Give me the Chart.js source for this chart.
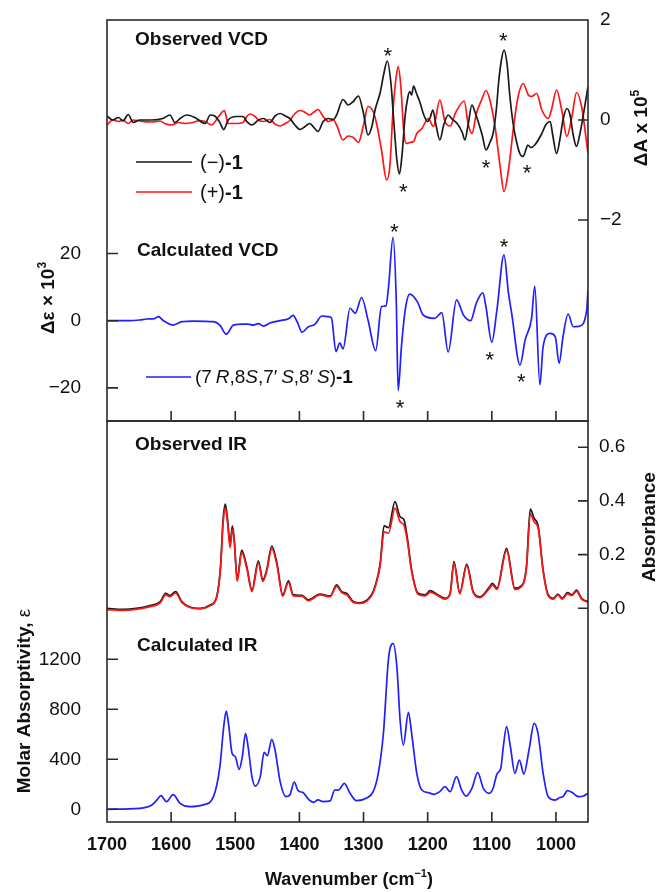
<!DOCTYPE html>
<html>
<head>
<meta charset="utf-8">
<script src="https://cdn.jsdelivr.net/npm/chart.js@4.4.1/dist/chart.umd.min.js"></script>
<style>
  body { margin: 0; background: #fff; }
  #wrap { position: relative; width: 658px; height: 892px; }
  canvas { position: absolute; left: 0; top: 0; }
</style>
</head>
<body>
<div id="wrap">
  <canvas id="chartTop" width="658" height="892"></canvas>
  <canvas id="chartBottom" width="658" height="892"></canvas>
</div>
<script>
const FONT = '"Liberation Sans", Arial, Helvetica, sans-serif';
const AXIS = '#2a2a2a';
const BLACK = '#1a1a1a', RED = '#ff1515', BLUE = '#1f1fff';

// tick values
const xTicks = [1700, 1600, 1500, 1400, 1300, 1200, 1100, 1000];
const dEpsTicks = [-20, 0, 20];
const dATicks = [-2, 0, 2];
const epsTicks = [0, 400, 800, 1200];
const absTicks = [0, 0.2, 0.4, 0.6];

// observed VCD, (-)-1 : [wavenumber, dA x 1e5]
const vcdMinus = [[1700,0.08],[1691,0.0],[1682,0.05],[1675,-0.02],[1667,0.11],[1659,-0.05],[1649,0.0],[1630,0.0],
  [1613,0.03],[1602,0.1],[1594,-0.05],[1586,0.03],[1576,0.1],[1563,0.05],[1547,-0.07],[1539,0.1],[1532,0.08],
  [1524,-0.05],[1518,-0.19],[1511,0.0],[1498,0.07],[1488,0.07],[1482,-0.03],[1474,-0.1],[1464,0.0],[1456,0.03],
  [1446,-0.05],[1438,0.08],[1430,0.13],[1422,0.08],[1415,0.03],[1407,-0.1],[1399,-0.19],[1391,-0.13],[1384,-0.07],
  [1376,-0.17],[1371,-0.23],[1363,-0.03],[1355,0.03],[1347,0.01],[1342,0.1],[1332,0.41],[1324,0.3],[1316,0.37],
  [1308,0.48],[1300,0.13],[1293,-0.3],[1287,-0.13],[1282,0.2],[1274,0.55],[1268,0.95],[1263,1.18],[1257,0.7],
  [1253,0.0],[1248,-0.8],[1244,-1.08],[1240,-0.7],[1235,0.1],[1231,0.45],[1228,0.57],[1225,0.5],[1222,0.68],
  [1218,0.55],[1212,0.35],[1206,0.1],[1200,-0.03],[1196,0.05],[1192,0.2],[1187,-0.1],[1181,-0.4],[1175,-0.1],
  [1168,0.1],[1162,0.02],[1154,-0.07],[1146,-0.25],[1142,-0.4],[1137,-0.1],[1131,0.3],[1126,0.15],[1122,0.0],
  [1115,-0.3],[1109,-0.6],[1103,-0.45],[1098,-0.27],[1093,0.2],[1089,0.8],[1085,1.2],[1081,1.4],[1076,1.1],
  [1072,0.5],[1067,-0.05],[1062,-0.4],[1056,-0.68],[1051,-0.73],[1047,-0.6],[1044,-0.5],[1039,-0.55],[1033,-0.5],
  [1022,-0.27],[1016,-0.1],[1009,-0.03],[1005,-0.3],[999,-0.67],[994,-0.4],[989,0.0],[983,0.23],[978,0.1],
  [973,-0.3],[968,-0.53],[963,-0.3],[956,0.2],[950,0.67]];

// observed VCD, (+)-1
const vcdPlus = [[1700,-0.1],[1691,0.0],[1682,-0.03],[1675,0.0],[1667,-0.07],[1659,0.0],[1649,-0.02],[1630,-0.04],
  [1617,-0.02],[1610,-0.07],[1599,-0.1],[1589,-0.05],[1578,-0.07],[1566,-0.05],[1555,-0.01],[1547,-0.03],
  [1537,-0.1],[1526,0.07],[1517,0.19],[1511,-0.07],[1498,-0.07],[1488,-0.05],[1482,0.07],[1477,0.12],[1469,0.07],
  [1464,0.0],[1456,-0.03],[1446,0.01],[1438,-0.08],[1430,-0.12],[1422,-0.07],[1415,-0.01],[1407,0.13],[1399,0.19],
  [1391,0.15],[1384,0.1],[1376,0.17],[1371,0.21],[1363,0.07],[1355,-0.03],[1347,0.0],[1342,-0.1],[1332,-0.4],
  [1324,-0.32],[1316,-0.35],[1308,-0.45],[1300,-0.1],[1293,0.27],[1285,0.17],[1280,-0.05],[1272,-0.6],[1264,-1.2],
  [1259,-0.93],[1254,0.2],[1249,0.87],[1246,1.07],[1242,0.7],[1237,-0.27],[1233,-0.47],[1228,-0.45],[1222,-0.43],
  [1217,-0.27],[1209,-0.17],[1199,0.03],[1191,-0.13],[1181,0.4],[1173,-0.03],[1165,-0.12],[1157,0.13],[1143,0.38],
  [1137,-0.07],[1131,-0.27],[1124,0.13],[1116,0.4],[1109,0.59],[1103,0.4],[1095,-0.13],[1087,-0.93],[1081,-1.43],
  [1074,-1.0],[1066,-0.13],[1059,0.47],[1051,0.73],[1043,0.5],[1038,0.47],[1030,0.53],[1022,0.2],[1012,0.03],
  [1007,0.2],[999,0.6],[991,0.2],[983,-0.33],[975,0.07],[968,0.55],[960,0.27],[950,-0.67]];

// calculated VCD : [wavenumber, d-epsilon x 1e3]
const vcdCalc = [[1700,0],[1665,0],[1649,0.2],[1638,0.5],[1626,0.6],[1620,1.2],[1612,0],[1597,-1.3],[1583,-0.3],
  [1565,-0.1],[1534,-0.3],[1524,-1.3],[1514,-4],[1503,-1.3],[1488,-1.0],[1480,-1.0],[1472,-1.3],[1464,-0.9],
  [1456,-1.6],[1446,-0.7],[1430,0],[1417,0.6],[1410,1.6],[1403,-0.5],[1396,-3.4],[1386,-1.8],[1376,-1.1],
  [1365,1.4],[1355,1.2],[1350,0.8],[1343,-9.2],[1337,-6.6],[1332,-8.4],[1321,3.7],[1313,2.2],[1303,6.9],
  [1293,0.2],[1281,-8.9],[1272,4.2],[1265,4.4],[1261,10.1],[1254,24.8],[1249,6.2],[1246,-20.8],[1241,-8],
  [1235,3.2],[1228,7.9],[1216,5.6],[1207,1.7],[1189,0.7],[1178,2.4],[1168,-9.3],[1155,6.2],[1144,1.6],[1133,0],
  [1124,5.3],[1114,8.3],[1109,4],[1100,-6.4],[1092,3.2],[1081,19.6],[1074,8.2],[1069,2.2],[1056,-13.2],
  [1048,-5.7],[1038,0.7],[1033,10.3],[1025,-19.1],[1020,-7.7],[1009,-3.8],[1001,-4.8],[995,-12.7],[989,-4.8],
  [981,2.0],[973,-1.8],[963,-1.6],[952,3.2],[950,9.1]];

// observed IR : wavenumbers, absorbance of (-)-1 and (+)-1
const irWn = [1700,1675,1633,1617,1608.5,1602,1593,1583.5,1571,1555,
  1539,1529,1523,1519,1515.5,1512,1508,1504.6,1501.5,1497,
  1490,1482,1474,1464,1457,1451,1443,1435,1426,1417,
  1409.5,1396,1386,1368,1352,1342,1334,1326,1316,1305.5,
  1295,1285,1274,1268,1261,1251,1243,1237,1232,1225,
  1215,1204,1196,1186,1173,1165,1159,1150,1139,1129,
  1118,1105,1099,1092,1077,1064,1056,1046,1040,1034,
  1027.5,1020,1012,1004,997,990,982,975,968,960,
  952,950];
const irMinus = [0.0,-0.004,0.01,0.025,0.056,0.047,0.062,0.025,0.005,0.0,
  0.012,0.043,0.155,0.33,0.388,0.33,0.236,0.307,0.255,0.108,
  0.217,0.155,0.068,0.177,0.106,0.143,0.232,0.168,0.05,0.102,
  0.05,0.048,0.031,0.053,0.046,0.087,0.062,0.055,0.025,0.02,
  0.03,0.062,0.168,0.307,0.3,0.397,0.341,0.33,0.267,0.143,
  0.056,0.05,0.066,0.053,0.037,0.056,0.174,0.058,0.165,0.062,
  0.043,0.075,0.093,0.075,0.223,0.075,0.08,0.155,0.369,0.335,
  0.304,0.143,0.05,0.037,0.053,0.037,0.058,0.05,0.068,0.037,
  0.027,0.027];
const irPlus = [-0.005,-0.008,0.006,0.02,0.05,0.043,0.057,0.022,0.003,-0.002,
  0.01,0.04,0.148,0.315,0.372,0.318,0.225,0.295,0.245,0.1,
  0.208,0.148,0.062,0.168,0.1,0.137,0.222,0.16,0.045,0.096,
  0.046,0.045,0.028,0.05,0.043,0.082,0.058,0.05,0.022,0.018,
  0.027,0.058,0.16,0.285,0.28,0.373,0.322,0.31,0.255,0.137,
  0.052,0.046,0.06,0.05,0.034,0.052,0.168,0.054,0.158,0.058,
  0.04,0.07,0.086,0.07,0.215,0.07,0.076,0.148,0.352,0.322,
  0.296,0.138,0.046,0.034,0.05,0.034,0.054,0.047,0.064,0.034,
  0.024,0.022];

// calculated IR : [wavenumber, molar absorptivity]
const irCalc = [[1700,0],[1649,8],[1630,35],[1622,75],[1616,109],[1607,61],[1597,117],[1586,48],[1571,21],
  [1550,35],[1534,101],[1524,341],[1518,661],[1514,786],[1510,661],[1505,448],[1500,421],[1494,320],[1489,421],
  [1484,608],[1480,501],[1474,261],[1469,186],[1461,261],[1455,456],[1450,429],[1443,560],[1438,474],[1430,221],
  [1421,101],[1415,114],[1408,218],[1402,149],[1394,133],[1385,75],[1378,56],[1371,75],[1363,61],[1352,67],
  [1345,154],[1339,154],[1330,208],[1321,128],[1311,69],[1295,90],[1285,141],[1277,288],[1269,608],[1261,1208],
  [1254,1328],[1248,1141],[1243,714],[1238,514],[1230,776],[1225,608],[1217,288],[1209,154],[1199,133],
  [1190,120],[1181,141],[1173,181],[1165,141],[1155,261],[1147,154],[1140,106],[1131,168],[1122,293],[1113,165],
  [1104,128],[1098,168],[1092,282],[1086,328],[1082,501],[1077,661],[1071,501],[1064,288],[1057,394],[1050,282],
  [1042,474],[1034,688],[1028,608],[1020,288],[1012,101],[1001,74],[994,94],[989,101],[982,149],[975,136],
  [965,101],[957,106],[950,128]];

// asterisk marks : [wavenumber, axis value]
const starsObs = [[1262, 1.4], [1238, -1.32], [1109, -0.84], [1082, 1.7], [1045, -0.94]];
const starsCalc = [[1252, 27.9], [1243, -24.2], [1103, -10.2], [1081, 23.7], [1054, -16.5]];

function pairs(list) { return list.map(p => ({ x: p[0], y: p[1] })); }
function zip(xs, ys) { return xs.map((x, i) => ({ x: x, y: ys[i] })); }

function line(label, data, color, axis) {
  return {
    label: label, data: data, yAxisID: axis,
    borderColor: color, borderWidth: 1.7, pointRadius: 0, fill: false,
    cubicInterpolationMode: 'monotone'
  };
}

function fixTicks(values) {
  return function (scale) { scale.ticks = values.map(v => ({ value: v })); };
}
function signed(v) { return v < 0 ? '\u2212' + Math.abs(v) : String(v); }

function yAxis(pos, min, max, ticks, fmt, width, pad) {
  return {
    position: pos, min: min, max: max, bounds: 'data',
    afterBuildTicks: fixTicks(ticks),
    // fixed width; drop the label padding so the plot box keeps its place
    afterFit: s => { s.width = width; s.paddingTop = 0; s.paddingBottom = 0; },
    grid: { display: false, drawTicks: false },
    border: { display: false },
    ticks: { font: { family: FONT, size: 19 }, color: '#111', padding: pad, callback: fmt }
  };
}

function xAxis(labels, height) {
  return {
    type: 'linear', min: 950, max: 1700, reverse: true, bounds: 'data',
    afterBuildTicks: fixTicks(xTicks),
    afterFit: s => { s.height = height; },
    grid: { display: false, drawTicks: false },
    border: { display: false },
    ticks: {
      display: labels, font: { family: FONT, size: 18, weight: 'bold' }, color: '#111',
      padding: 12, maxRotation: 0, autoSkip: false, callback: v => String(v)
    }
  };
}

function richText(ctx, parts, x, y, align, rotate, base) {
  ctx.save();
  ctx.translate(x, y);
  if (rotate) ctx.rotate(rotate);
  ctx.fillStyle = '#111';
  ctx.textAlign = 'left';
  ctx.textBaseline = 'alphabetic';
  let w = 0;
  parts.forEach(p => { ctx.font = p[1]; w += ctx.measureText(p[0]).width; });
  let cx = align === 'center' ? -w / 2 : 0;
  parts.forEach(p => {
    ctx.font = p[1];
    ctx.fillText(p[0], cx, (base || 0) + (p[2] || 0));
    cx += ctx.measureText(p[0]).width;
  });
  ctx.restore();
}

function drawFrame(chart, yLTicks, yRTicks) {
  const ctx = chart.ctx, a = chart.chartArea, s = chart.scales;
  ctx.save();
  ctx.strokeStyle = AXIS;
  ctx.lineWidth = 1.6;
  ctx.beginPath();
  xTicks.forEach(v => {
    const px = s.x.getPixelForValue(v);
    if (px < a.left + 2 || px > a.right - 2) return;
    ctx.moveTo(px, a.bottom); ctx.lineTo(px, a.bottom - 10);
  });
  yLTicks.forEach(v => {
    const py = s.yL.getPixelForValue(v);
    if (py < a.top + 2 || py > a.bottom - 2) return;
    ctx.moveTo(a.left, py); ctx.lineTo(a.left + 11, py);
  });
  yRTicks.forEach(v => {
    const py = s.yR.getPixelForValue(v);
    if (py < a.top + 2 || py > a.bottom - 2) return;
    ctx.moveTo(a.right, py); ctx.lineTo(a.right - 10, py);
  });
  ctx.stroke();
  ctx.strokeRect(a.left, a.top, a.right - a.left, a.bottom - a.top);
  ctx.restore();
}

function legendLine(ctx, color, x1, x2, y) {
  ctx.save();
  ctx.strokeStyle = color;
  ctx.lineWidth = 1.7;
  ctx.beginPath(); ctx.moveTo(x1, y); ctx.lineTo(x2, y); ctx.stroke();
  ctx.restore();
}

function stars(chart, list, axis) {
  const ctx = chart.ctx, s = chart.scales;
  ctx.save();
  ctx.fillStyle = '#111';
  ctx.font = '22px ' + FONT;
  ctx.textAlign = 'center';
  ctx.textBaseline = 'alphabetic';
  list.forEach(p => {
    ctx.fillText('*', s.x.getPixelForValue(p[0]), s[axis].getPixelForValue(p[1]) + 12.5);
  });
  ctx.restore();
}

const B19 = 'bold 19px ' + FONT, R19 = '19px ' + FONT, I19 = 'italic 19px ' + FONT;
const B20 = 'bold 20px ' + FONT, R20 = '20px ' + FONT, SUP = 'bold 12px ' + FONT;

const topDecor = {
  id: 'topDecor',
  afterDraw(chart) {
    const ctx = chart.ctx;
    drawFrame(chart, dEpsTicks, dATicks);
    richText(ctx, [['Observed VCD', B19]], 135, 45);
    richText(ctx, [['Calculated VCD', B19]], 137, 256);
    legendLine(ctx, BLACK, 136, 192, 162);
    richText(ctx, [['(\u2212)', R20], ['-1', B20]], 200, 169);
    legendLine(ctx, RED, 136, 192, 192);
    richText(ctx, [['(+)', R20], ['-1', B20]], 200, 199);
    legendLine(ctx, BLUE, 146, 191, 377);
    richText(ctx, [['(7\u2009', R19], ['R', I19], [',8', R19], ['S', I19], [',7\u2032\u2009', R19], ['S', I19],
      [',8\u2032\u2009', R19], ['S', I19], [')', R19], ['-1', B19]], 195, 383);
    stars(chart, starsObs, 'yR');
    stars(chart, starsCalc, 'yL');
    richText(ctx, [['\u0394\u03b5 \u00d7 10', B19], ['3', SUP, -8]], 47, 298, 'center', -Math.PI / 2, 7);
    richText(ctx, [['\u0394A x 10', B19], ['5', SUP, -8]], 640, 128, 'center', -Math.PI / 2, 7);
  }
};

const bottomDecor = {
  id: 'bottomDecor',
  afterDraw(chart) {
    const ctx = chart.ctx;
    drawFrame(chart, epsTicks, absTicks);
    richText(ctx, [['Observed IR', B19]], 135, 450);
    richText(ctx, [['Calculated IR', B19]], 137, 651);
    richText(ctx, [['Absorbance', B19]], 648, 527, 'center', -Math.PI / 2, 7);
    richText(ctx, [['Molar Absorptivity, ', B19], ['\u03b5', R19]], 23, 701, 'center', -Math.PI / 2, 7);
    richText(ctx, [['Wavenumber (cm', 'bold 18px ' + FONT], ['\u22121', 'bold 11px ' + FONT, -8],
      [')', 'bold 18px ' + FONT]], 349, 885, 'center');
  }
};

new Chart(document.getElementById('chartTop'), {
  type: 'line',
  data: {
    datasets: [
      line('(\u2212)-1', pairs(vcdMinus), BLACK, 'yR'),
      line('(+)-1', pairs(vcdPlus), RED, 'yR'),
      line('(7R,8S,7\'S,8\'S)-1', pairs(vcdCalc), BLUE, 'yL')
    ]
  },
  options: {
    responsive: false, animation: false, devicePixelRatio: 1,
    layout: { padding: { top: 20, bottom: 471, left: 0, right: 0 } },
    plugins: { legend: { display: false }, tooltip: { enabled: false } },
    scales: {
      x: xAxis(false, 0),
      yL: yAxis('left', -29.85, 89.49, dEpsTicks, signed, 107, 26),
      yR: yAxis('right', -6.02, 2, dATicks, signed, 70, 12)
    }
  },
  plugins: [topDecor]
});

new Chart(document.getElementById('chartBottom'), {
  type: 'line',
  data: {
    datasets: [
      line('(+)-1', zip(irWn, irPlus), RED, 'yR'),
      line('(\u2212)-1', zip(irWn, irMinus), BLACK, 'yR'),
      line('calc', pairs(irCalc), BLUE, 'yL')
    ]
  },
  options: {
    responsive: false, animation: false, devicePixelRatio: 1,
    layout: { padding: { top: 421, bottom: 0, left: 0, right: 0 } },
    plugins: { legend: { display: false }, tooltip: { enabled: false } },
    scales: {
      x: xAxis(true, 70),
      yL: yAxis('left', -101.6, 3106, epsTicks, v => String(v), 107, 26),
      yR: yAxis('right', -0.796, 0.6976, absTicks, v => v.toFixed(1), 70, 11)
    }
  },
  plugins: [bottomDecor]
});
</script>
</body>
</html>
